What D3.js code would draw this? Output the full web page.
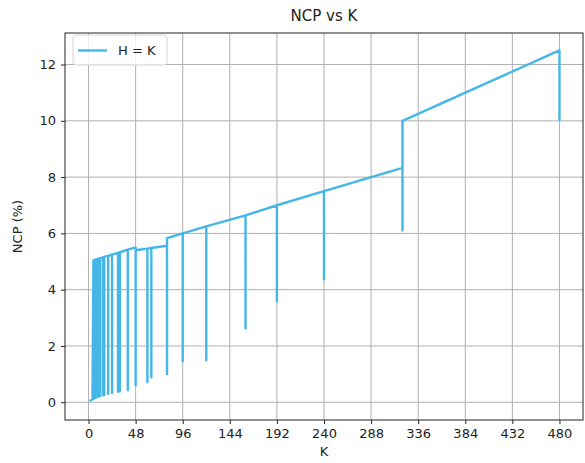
<!DOCTYPE html>
<html>
<head>
<meta charset="utf-8">
<script src="https://cdn.jsdelivr.net/npm/d3@7"></script>
<style>
  body { margin: 0; background: #fff; }
  text { font-family: "DejaVu Sans", sans-serif; fill: #222; }
</style>
</head>
<body>
<svg id="chart" width="585" height="463"></svg>
<script>
// K values where the configurations change, and the NCP reached at each one:
// value coming in, value at the bottom of the drop, value going out
var kValues = [1, 2, 3, 4, 5, 6, 8, 10, 12, 15, 16, 20, 24, 30, 32, 40, 48, 60, 64, 80, 96, 120, 160, 192, 240, 320, 480];
var ncpIn   = [0.05, 0.06, 0.08, 0.1, 5.05, 5.06, 5.08, 5.1, 5.12, 5.15, 5.17, 5.2, 5.25, 5.31, 5.33, 5.42, 5.5, 5.46, 5.48, 5.56, 6.0, 6.25, 6.64, 7.0, 7.5, 8.33, 12.5];
var ncpLow  = [0.05, 0.06, 0.08, 0.1, 0.12, 0.14, 0.17, 0.2, 0.22, 0.25, 0.26, 0.3, 0.33, 0.37, 0.39, 0.43, 0.6, 0.71, 0.89, 1.0, 1.46, 1.49, 2.63, 3.59, 4.37, 6.1, 10.0];
var ncpOut  = [0.05, 0.06, 0.08, 0.1, 5.05, 5.06, 5.08, 5.1, 5.12, 5.15, 5.17, 5.2, 5.25, 5.31, 5.33, 5.42, 5.4, 5.46, 5.48, 5.83, 6.0, 6.25, 6.64, 7.0, 7.5, 10.0, 10.0];
var xTicks = [0, 48, 96, 144, 192, 240, 288, 336, 384, 432, 480];
var yTicks = [0, 2, 4, 6, 8, 10, 12];

var svg = d3.select("#chart"),
  margin = { top: 33, right: 2, bottom: 43, left: 65 },
  width = +svg.attr("width"),
  height = +svg.attr("height");

var x = d3.scaleLinear()
  .domain([-24, 504])
  .range([margin.left, width - margin.right]);
var y = d3.scaleLinear()
  .domain([-0.63, 13.12])
  .range([height - margin.bottom, margin.top]);

// build the path: in -> drop -> out at every K
var points = [];
kValues.forEach(function (k, i) {
  points.push([k, ncpIn[i]]);
  points.push([k, ncpLow[i]]);
  points.push([k, ncpOut[i]]);
});

// grid
svg.append("g").selectAll("line").data(xTicks).enter().append("line")
  .attr("x1", function (d) { return x(d); })
  .attr("x2", function (d) { return x(d); })
  .attr("y1", margin.top)
  .attr("y2", height - margin.bottom)
  .attr("stroke", "#b0b0b0").attr("stroke-width", 1);
svg.append("g").selectAll("line").data(yTicks).enter().append("line")
  .attr("y1", function (d) { return y(d); })
  .attr("y2", function (d) { return y(d); })
  .attr("x1", margin.left)
  .attr("x2", width - margin.right)
  .attr("stroke", "#b0b0b0").attr("stroke-width", 1);

// the series
var line = d3.line()
  .x(function (d) { return x(d[0]); })
  .y(function (d) { return y(d[1]); });
svg.append("path")
  .datum(points)
  .attr("d", line)
  .attr("fill", "none")
  .attr("stroke", "#44b7e8")
  .attr("stroke-width", 2.4)
  .attr("stroke-linejoin", "round");

// axes
var xAxis = svg.append("g")
  .attr("transform", "translate(0," + (height - margin.bottom) + ")")
  .call(d3.axisBottom(x).tickValues(xTicks).tickSize(4).tickPadding(5).tickSizeOuter(0));
var yAxis = svg.append("g")
  .attr("transform", "translate(" + margin.left + ",0)")
  .call(d3.axisLeft(y).tickValues(yTicks).tickSize(4).tickPadding(5).tickSizeOuter(0));
[xAxis, yAxis].forEach(function (a) {
  a.select(".domain").remove();
  a.selectAll("text").attr("font-size", 13).attr("font-family", "DejaVu Sans, sans-serif").attr("fill", "#222");
  a.selectAll("line").attr("stroke", "#222");
});

// frame
svg.append("rect")
  .attr("x", margin.left).attr("y", margin.top)
  .attr("width", width - margin.left - margin.right)
  .attr("height", height - margin.top - margin.bottom)
  .attr("fill", "none").attr("stroke", "#222").attr("stroke-width", 1);

// titles
svg.append("text")
  .attr("x", (margin.left + width - margin.right) / 2)
  .attr("y", 21)
  .attr("text-anchor", "middle")
  .attr("font-size", 15)
  .text("NCP vs K");
svg.append("text")
  .attr("x", (margin.left + width - margin.right) / 2)
  .attr("y", 456)
  .attr("text-anchor", "middle")
  .attr("font-size", 13)
  .text("K");
svg.append("text")
  .attr("text-anchor", "middle")
  .attr("transform", "translate(22," + ((margin.top + height - margin.bottom) / 2) + ")rotate(-90)")
  .attr("font-size", 13)
  .text("NCP (%)");

// legend
var lg = svg.append("g").attr("transform", "translate(73,35)");
lg.append("rect")
  .attr("width", 94).attr("height", 30).attr("rx", 3)
  .attr("fill", "#fff").attr("fill-opacity", 0.8)
  .attr("stroke", "#d6d6d6");
lg.append("line")
  .attr("x1", 5).attr("x2", 34).attr("y1", 15.5).attr("y2", 15.5)
  .attr("stroke", "#44b7e8").attr("stroke-width", 2.4);
lg.append("text")
  .attr("x", 45).attr("y", 20)
  .attr("font-size", 13)
  .text("H = K");
</script>
</body>
</html>
